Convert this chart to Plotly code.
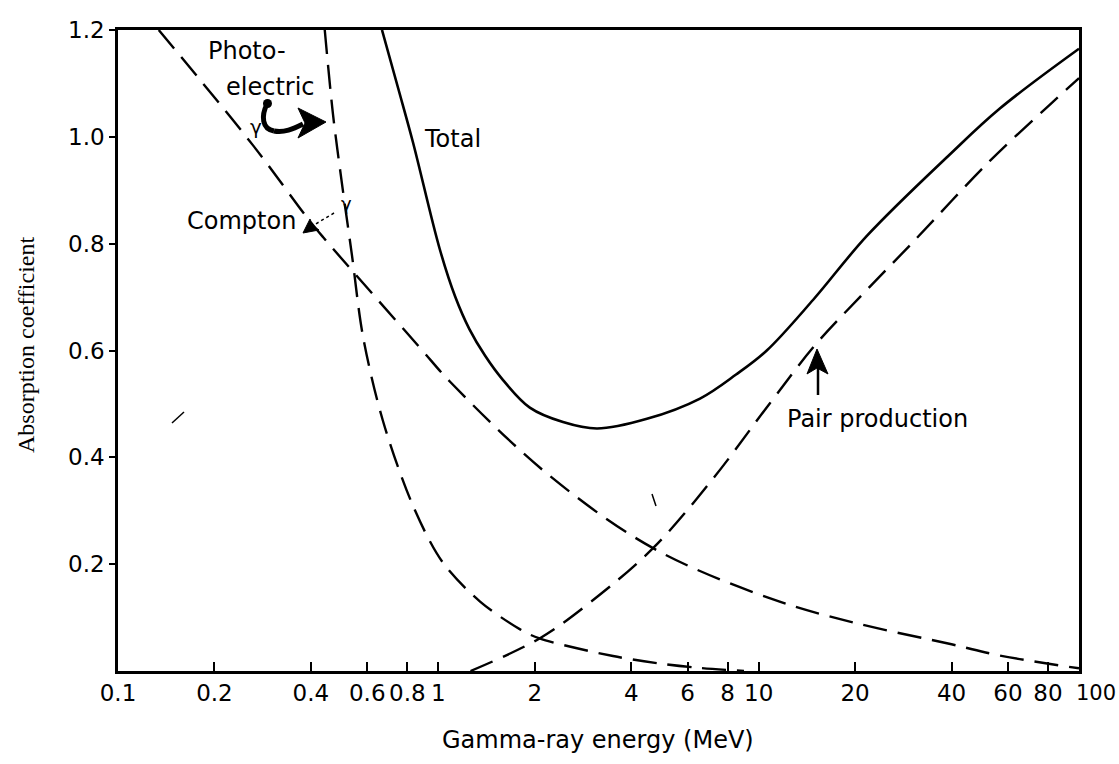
import plotly.graph_objects as go

# --- data: absorption coefficient vs gamma-ray energy (MeV) ---
energy_total = [0.667, 0.75, 0.834, 1.01, 1.13, 1.25, 1.4, 1.59, 1.93, 2.45, 3.13, 4.48, 6.56, 8.5, 10.6, 14.8, 21.8, 39.5, 56.6, 100]
coef_total = [1.2, 1.09, 0.989, 0.79, 0.70, 0.64, 0.59, 0.545, 0.493, 0.466, 0.454, 0.472, 0.51, 0.555, 0.60, 0.695, 0.815, 0.967, 1.053, 1.165]

energy_photo = [0.442, 0.469, 0.504, 0.537, 0.582, 0.671, 0.834, 1.03, 1.35, 1.80, 2.07, 3.51, 4.92, 6.5, 9.0]
coef_photo = [1.2, 1.042, 0.898, 0.78, 0.626, 0.469, 0.309, 0.204, 0.130, 0.078, 0.061, 0.028, 0.014, 0.006, 0.0]

energy_compton = [0.134, 0.264, 0.389, 0.437, 0.877, 1.09, 2.18, 4.68, 11.1, 20, 40, 56.6, 100]
coef_compton = [1.2, 0.984, 0.849, 0.812, 0.605, 0.541, 0.370, 0.23, 0.134, 0.09, 0.05, 0.029, 0.005]

energy_pair = [1.26, 2.07, 3.0, 4.68, 7.2, 10.8, 15.0, 20.7, 30, 52.7, 81, 100]
coef_pair = [0.0, 0.061, 0.13, 0.23, 0.36, 0.50, 0.61, 0.70, 0.80, 0.955, 1.06, 1.11]

x_ticks = [0.1, 0.2, 0.4, 0.6, 0.8, 1, 2, 4, 6, 8, 10, 20, 40, 60, 80, 100]
x_tick_labels = ["0.1", "0.2", "0.4", "0.6", "0.8", "1", "2", "4", "6", "8", "10", "20", "40", "60", "80", "100"]
y_ticks = [0.2, 0.4, 0.6, 0.8, 1.0, 1.2]
y_tick_labels = ["0.2", "0.4", "0.6", "0.8", "1.0", "1.2"]

# --- page geometry (pixels) ---
W, H = 1119, 764
L, R, T, B = 118, 1079, 30, 671

def pp(x, y):
    """Page pixel -> paper fraction."""
    return (x - L) / (R - L), (B - y) / (B - T)

SANS = "DejaVu Sans"
INK = "black"
DASH = "24px,11px"
TICK_SIZE = 23

fig = go.Figure()

fig.add_trace(go.Scatter(x=energy_total, y=coef_total, mode="lines",
                         line=dict(color=INK, width=2.6, shape="spline", smoothing=1.0),
                         name="Total", hoverinfo="skip"))
fig.add_trace(go.Scatter(x=energy_photo, y=coef_photo, mode="lines",
                         line=dict(color=INK, width=2.4, dash=DASH, shape="spline", smoothing=0.9),
                         name="Photo-electric", hoverinfo="skip"))
fig.add_trace(go.Scatter(x=energy_compton, y=coef_compton, mode="lines",
                         line=dict(color=INK, width=2.4, dash=DASH, shape="spline", smoothing=1.0),
                         name="Compton", hoverinfo="skip"))
fig.add_trace(go.Scatter(x=energy_pair, y=coef_pair, mode="lines",
                         line=dict(color=INK, width=2.4, dash=DASH, shape="spline", smoothing=1.0),
                         name="Pair production", hoverinfo="skip"))

annotations = []

def text(s, x, y, size=24, family=SANS, angle=0, xanchor="center"):
    px_, py_ = pp(x, y)
    annotations.append(dict(text=s, x=px_, y=py_, xref="paper", yref="paper",
                            showarrow=False, xanchor=xanchor, yanchor="middle",
                            textangle=angle, font=dict(family=family, size=size, color=INK)))

text("Photo-", 247, 51)
text("electric", 270, 87)
text("Compton", 241, 221)
text("Total", 452, 139)
text("Pair production", 877, 419)
text("Gamma-ray energy (MeV)", 598, 740)
text("Absorption coefficient", 26, 345, size=24, family="Liberation Serif", angle=-90)
text("γ", 256, 127, size=20)
text("γ", 346, 203, size=18)
# the last x tick label is set a little right of its tick so it stays clear of "80"
text(x_tick_labels[-1], 1096, 693, size=21)

shapes = []

def poly(pts, closed=False, fill=None, width=2, dash=None):
    d = "M" + " L".join("%.5f,%.5f" % pp(x, y) for x, y in pts)
    if closed:
        d += " Z"
    shp = dict(type="path", path=d, xref="paper", yref="paper",
               line=dict(color=INK, width=width))
    if dash:
        shp["line"]["dash"] = dash
    if fill:
        shp["fillcolor"] = fill
    shapes.append(shp)

def curve(p0, c1, c2, p1, width=2):
    d = "M%.5f,%.5f C%.5f,%.5f %.5f,%.5f %.5f,%.5f" % (*pp(*p0), *pp(*c1), *pp(*c2), *pp(*p1))
    shapes.append(dict(type="path", path=d, xref="paper", yref="paper",
                       line=dict(color=INK, width=width)))

# curled arrow towards the photo-electric curve
curve((267, 104), (261, 116), (262, 129), (274, 131), width=5)
curve((274, 131), (284, 133), (293, 129), (303, 124), width=5)
shapes.append(dict(type="circle", xref="paper", yref="paper",
                   x0=pp(263, 0)[0], x1=pp(272, 0)[0], y0=pp(0, 108)[1], y1=pp(0, 99)[1],
                   fillcolor=INK, line=dict(color=INK, width=0)))
poly([(326, 122), (298, 108), (305, 123), (298, 138)], closed=True, fill=INK, width=1)

# dotted pointer to the Compton curve
poly([(334, 213), (314, 225)], width=1.5, dash="dot")
poly([(303, 233), (310, 219), (313, 226), (319, 230)], closed=True, fill=INK, width=1)

# pointer to the pair-production curve
poly([(818, 395), (818, 366)], width=2.5)
poly([(817, 349), (807, 374), (817, 368), (828, 374)], closed=True, fill=INK, width=1)

# small stray strokes
poly([(172, 423), (184, 412)], width=1.5)
poly([(652, 494), (656, 506)], width=1.5)

axis_common = dict(showgrid=False, zeroline=False, showline=True, linecolor=INK,
                   linewidth=2.5, mirror=True, tickcolor=INK, tickwidth=2,
                   tickfont=dict(family=SANS, size=TICK_SIZE, color=INK))

fig.update_layout(
    width=W, height=H,
    margin=dict(l=L, r=W - R, t=T, b=H - B, pad=0),
    paper_bgcolor="white", plot_bgcolor="white",
    showlegend=False,
    xaxis=dict(type="log", range=[-1, 2], tickmode="array", tickvals=x_ticks,
               ticktext=x_tick_labels[:-1] + [""], ticks="inside", ticklen=9, tickangle=0,
               **axis_common),
    yaxis=dict(range=[0, 1.2], tickmode="array", tickvals=y_ticks,
               ticktext=y_tick_labels, ticks="outside", ticklen=6,
               **axis_common),
    annotations=annotations,
    shapes=shapes,
)

fig.write_html("out.html")
